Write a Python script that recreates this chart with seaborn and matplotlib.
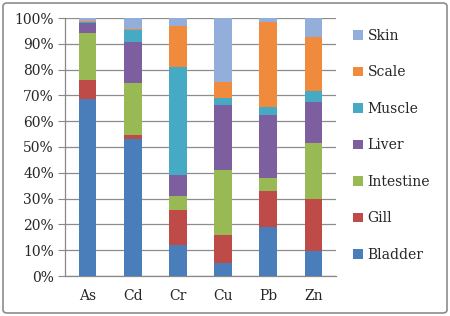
import matplotlib
matplotlib.use('Agg')
import matplotlib.pyplot as plt
import seaborn as sns
import pandas as pd
import numpy as np
from matplotlib.patches import FancyBboxPatch, Patch

metals = ['As', 'Cd', 'Cr', 'Cu', 'Pb', 'Zn']
tissues = ['Bladder', 'Gill', 'Intestine', 'Liver', 'Muscle', 'Scale', 'Skin']

# share of each tissue in %, per metal
bladder = [68.6, 53.0, 12.1, 4.9, 18.9, 9.8]
gill = [7.2, 1.7, 13.4, 11.1, 14.2, 20.2]
intestine = [18.3, 20.1, 5.5, 25.1, 5.0, 21.7]
liver = [4.1, 16.0, 8.3, 25.3, 24.3, 15.9]
muscle = [0.3, 4.7, 41.7, 2.7, 3.2, 4.0]
scale = [0.3, 0.4, 16.0, 6.0, 32.8, 20.9]
skin = [1.2, 4.1, 3.0, 24.9, 1.6, 7.5]

colors = ['#4A7EBB', '#BE4B48', '#98B954', '#7D5FA0', '#46AAC5', '#F08A3C', '#93AEDA']

sns.set_style('white')
plt.rcParams['font.family'] = ['DejaVu Serif']

df = pd.DataFrame({'metal': metals, 'Bladder': bladder, 'Gill': gill,
                   'Intestine': intestine, 'Liver': liver, 'Muscle': muscle,
                   'Scale': scale, 'Skin': skin})
cum = df[tissues].cumsum(axis=1)
cum = cum.div(cum['Skin'], axis=0) * 100

fig = plt.figure(figsize=(4.5, 3.16), dpi=100)
ax = fig.add_axes([65 / 450, 40 / 316, 271 / 450, 258 / 316])

# overlay cumulative bars, tallest first
for t, c in reversed(list(zip(tissues, colors))):
    sns.barplot(x=df['metal'], y=cum[t], color=c, width=0.39, ax=ax,
                saturation=1, linewidth=0, zorder=3)

ax.set_ylim(0, 100)
ax.set_xlim(-0.5, 5.5)
ax.set_yticks(np.arange(0, 101, 10))
ax.set_yticklabels([f'{v}%' for v in range(0, 101, 10)], fontsize=10)
ax.set_xticks(range(6))
ax.set_xticklabels(metals, fontsize=10)
ax.set_xticks(np.arange(-0.5, 6, 1), minor=True)
ax.tick_params(axis='x', which='major', length=0, pad=9)
ax.tick_params(axis='x', which='minor', length=5, color='#888888', direction='out')
ax.tick_params(axis='y', length=5, color='#888888', direction='out', left=True, pad=3)
ax.set_xlabel('')
ax.set_ylabel('')
ax.yaxis.grid(True, color='#8C8C8C', linewidth=0.9, zorder=0)
ax.set_axisbelow(True)
for s in ['top', 'right']:
    ax.spines[s].set_visible(False)
for s in ['left', 'bottom']:
    ax.spines[s].set_color('#888888')
    ax.spines[s].set_linewidth(0.9)

handles = [Patch(facecolor=c, edgecolor='none', label=t) for t, c in zip(tissues, colors)]
fig.legend(handles=handles[::-1], loc='upper left', bbox_to_anchor=(346 / 450, 1 - 22 / 316),
           frameon=False, fontsize=10, handlelength=0.7, handleheight=0.7,
           handletextpad=0.35, labelspacing=1.62, borderpad=0)

fig.patches.append(FancyBboxPatch((3 / 450, 3 / 316), 444 / 450, 310 / 316,
                                  boxstyle='round,pad=0,rounding_size=0.01',
                                  transform=fig.transFigure, facecolor='none',
                                  edgecolor='#8C8C8C', linewidth=1.2))

fig.savefig('out.png', dpi=100)
